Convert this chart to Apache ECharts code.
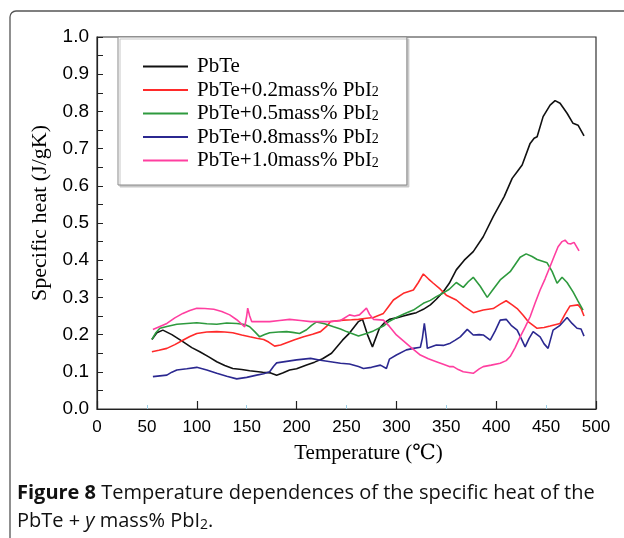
<!DOCTYPE html>
<html>
<head>
<meta charset="utf-8">
<script src="https://cdn.jsdelivr.net/npm/echarts@6/dist/echarts.min.js"></script>
<style>
  html, body { margin: 0; padding: 0; background: #fff; }
  #chart { width: 624px; height: 538px; }
</style>
</head>
<body>
<div id="chart"></div>
<script>
// [temperature (°C), specific heat (J/gK)]
const pbTe = [[55,0.187],[60,0.205],[66,0.212],[75,0.2],[86,0.181],[95,0.165],[103,0.154],[112,0.14],[120,0.127],[128,0.117],[136,0.109],[145,0.106],[153,0.103],[166,0.099],[174,0.097],[180,0.091],[186,0.097],[193,0.105],[200,0.108],[210,0.118],[218,0.126],[226,0.135],[235,0.15],[246,0.185],[253,0.204],[262,0.235],[266,0.241],[271,0.2],[276,0.167],[283,0.217],[288,0.232],[293,0.241],[300,0.245],[307,0.25],[314,0.255],[320,0.259],[327,0.268],[334,0.28],[340,0.295],[347,0.315],[353,0.338],[360,0.374],[368,0.4],[377,0.423],[387,0.463],[397,0.517],[408,0.571],[416,0.62],[421,0.638],[426,0.656],[434,0.714],[438,0.728],[441,0.732],[447,0.786],[454,0.817],[459,0.829],[464,0.822],[471,0.795],[477,0.768],[482,0.763],[488,0.734]]
const pbI2_02 = [[55,0.154],[62,0.158],[70,0.163],[78,0.173],[86,0.185],[93,0.195],[100,0.203],[110,0.207],[120,0.208],[128,0.207],[136,0.205],[145,0.199],[153,0.194],[160,0.19],[167,0.187],[172,0.18],[178,0.169],[184,0.172],[190,0.178],[198,0.186],[207,0.194],[216,0.201],[224,0.208],[230,0.222],[234,0.235],[240,0.237],[247,0.239],[255,0.24],[262,0.241],[270,0.244],[277,0.246],[287,0.257],[292,0.275],[297,0.293],[307,0.311],[317,0.32],[322,0.34],[327,0.363],[332,0.35],[337,0.338],[344,0.322],[350,0.306],[360,0.293],[368,0.275],[377,0.259],[387,0.266],[397,0.27],[404,0.282],[410,0.291],[416,0.28],[421,0.27],[427,0.252],[432,0.235],[441,0.217],[448,0.219],[454,0.223],[464,0.23],[469,0.255],[474,0.277],[482,0.28],[485,0.27],[488,0.25]]
const pbI2_05 = [[55,0.187],[59,0.205],[63,0.217],[70,0.222],[80,0.228],[90,0.23],[100,0.232],[110,0.229],[120,0.228],[130,0.231],[140,0.23],[148,0.227],[153,0.221],[158,0.208],[163,0.194],[168,0.2],[173,0.205],[182,0.207],[190,0.208],[196,0.206],[203,0.203],[210,0.213],[215,0.225],[220,0.234],[228,0.229],[237,0.221],[244,0.215],[250,0.208],[256,0.202],[262,0.196],[270,0.203],[277,0.21],[287,0.223],[293,0.236],[300,0.246],[308,0.256],[317,0.266],[327,0.284],[334,0.292],[340,0.302],[347,0.312],[353,0.322],[360,0.34],[367,0.327],[372,0.342],[377,0.354],[384,0.33],[391,0.3],[397,0.322],[404,0.347],[414,0.369],[424,0.408],[430,0.417],[436,0.41],[441,0.402],[451,0.393],[456,0.37],[461,0.338],[466,0.354],[471,0.34],[477,0.315],[482,0.29],[487,0.266]]
const pbI2_08 = [[56,0.087],[63,0.089],[70,0.091],[75,0.099],[80,0.105],[90,0.108],[100,0.112],[110,0.105],[120,0.096],[130,0.088],[140,0.081],[150,0.085],[160,0.091],[167,0.095],[173,0.1],[177,0.115],[180,0.124],[190,0.128],[200,0.132],[207,0.134],[214,0.136],[224,0.131],[234,0.127],[244,0.123],[253,0.121],[262,0.114],[267,0.109],[275,0.112],[284,0.118],[290,0.109],[293,0.134],[300,0.145],[310,0.159],[317,0.163],[324,0.166],[326,0.19],[328,0.23],[330,0.19],[331,0.163],[340,0.172],[347,0.171],[354,0.177],[359,0.185],[364,0.194],[371,0.214],[377,0.199],[383,0.2],[387,0.199],[394,0.185],[399,0.21],[404,0.239],[410,0.241],[415,0.225],[421,0.212],[425,0.19],[429,0.167],[433,0.19],[437,0.208],[441,0.2],[444,0.194],[448,0.175],[452,0.163],[457,0.212],[464,0.225],[471,0.246],[476,0.23],[481,0.217],[485,0.215],[488,0.196]]
const pbI2_10 = [[56,0.214],[63,0.222],[70,0.23],[78,0.245],[86,0.257],[93,0.265],[100,0.271],[108,0.27],[117,0.268],[125,0.262],[133,0.253],[140,0.24],[148,0.221],[150,0.25],[151,0.271],[153,0.25],[155,0.235],[163,0.235],[173,0.235],[183,0.238],[193,0.241],[204,0.238],[214,0.235],[224,0.235],[234,0.235],[244,0.238],[253,0.253],[258,0.25],[263,0.253],[270,0.271],[273,0.255],[277,0.241],[287,0.239],[293,0.222],[300,0.199],[307,0.183],[314,0.167],[324,0.145],[332,0.135],[340,0.127],[347,0.12],[353,0.114],[357,0.114],[362,0.106],[367,0.1],[372,0.098],[377,0.096],[383,0.108],[387,0.114],[395,0.118],[404,0.123],[410,0.13],[414,0.141],[419,0.165],[424,0.194],[429,0.22],[434,0.248],[439,0.285],[444,0.32],[449,0.35],[454,0.383],[458,0.41],[462,0.436],[466,0.45],[469,0.454],[472,0.445],[475,0.444],[478,0.448],[480,0.445],[483,0.425]]

const seriesNames = ['PbTe', 'PbTe+0.2mass% PbI2', 'PbTe+0.5mass% PbI2', 'PbTe+0.8mass% PbI2', 'PbTe+1.0mass% PbI2']
const seriesColors = ['#111111', '#ff2a2a', '#2e9a3e', '#2b2890', '#ff3fa0']
const seriesData = [pbTe, pbI2_02, pbI2_05, pbI2_08, pbI2_10]

const serif = '"Liberation Serif", "DejaVu Serif", serif'
const narrow = '"Liberation Sans Narrow", "Liberation Sans", sans-serif'
const caption = '"Open Sans", sans-serif'

const chart = echarts.init(document.getElementById('chart'))

chart.setOption({
  backgroundColor: '#fff',
  animation: false,
  grid: {
    left: 97,
    right: 28,
    top: 37,
    bottom: 129,
    show: true,
    borderColor: '#333',
    borderWidth: 1.2
  },
  legend: {
    orient: 'vertical',
    left: 118,
    top: 37,
    padding: [19, 28, 14, 25],
    backgroundColor: '#fff',
    borderColor: '#888',
    borderWidth: 1,
    shadowColor: '#c8c8c8',
    shadowOffsetX: 2,
    shadowOffsetY: 2,
    shadowBlur: 0,
    icon: 'rect',
    itemWidth: 45,
    itemHeight: 2,
    itemGap: 2.5,
    data: seriesNames,
    formatter: name => name.endsWith('PbI2') ? name.slice(0, -1) + '{s|2}' : name,
    textStyle: {
      fontFamily: serif,
      fontSize: 21,
      lineHeight: 19,
      color: '#000',
      padding: [0, 0, 0, 4],
      rich: {
        s: { fontFamily: serif, fontSize: 14, lineHeight: 19, color: '#000', padding: [5, 0, 0, 0] }
      }
    }
  },
  xAxis: [{
    type: 'value',
    min: 0,
    max: 500,
    interval: 50,
    name: 'Temperature (℃)',
    nameLocation: 'middle',
    nameGap: 34,
    nameTextStyle: { fontFamily: serif, fontSize: 21, color: '#000', padding: [0, 0, 0, 44] },
    axisLine: { lineStyle: { color: '#222', width: 1.2 } },
    axisTick: { inside: true, length: 4, lineStyle: { color: '#9cd0e6' } },
    axisLabel: { fontFamily: narrow, fontSize: 17, color: '#000', margin: 10 },
    splitLine: { show: false }
  }, {
    type: 'value',
    position: 'bottom',
    min: 0,
    max: 500,
    interval: 100,
    axisLine: { show: false },
    axisTick: { inside: true, length: 8, lineStyle: { color: '#222', width: 1.2 } },
    axisLabel: { show: false },
    splitLine: { show: false }
  }],
  yAxis: {
    type: 'value',
    min: 0,
    max: 1,
    interval: 0.1,
    name: 'Specific heat (J/gK)',
    nameLocation: 'middle',
    nameGap: 45,
    nameTextStyle: { fontFamily: serif, fontSize: 22, color: '#000', padding: [0, 0, 0, 20] },
    axisLine: { lineStyle: { color: '#222', width: 1.2 } },
    axisTick: { inside: true, length: 6, lineStyle: { color: '#222' } },
    minorTick: { show: true, splitNumber: 2, length: 6, lineStyle: { color: '#222' } },
    axisLabel: {
      fontFamily: narrow,
      fontSize: 19,
      color: '#000',
      margin: 8,
      formatter: v => v.toFixed(1)
    },
    splitLine: { show: false }
  },
  series: seriesNames.map((name, i) => ({
    name,
    type: 'line',
    data: seriesData[i],
    showSymbol: false,
    symbol: 'none',
    color: seriesColors[i],
    lineStyle: { width: 1.6, color: seriesColors[i] },
    z: 2
  })),
  graphic: [{
    type: 'rect',
    shape: { x: 10, y: 11, width: 700, height: 700, r: 6 },
    style: { fill: 'none', stroke: '#555', lineWidth: 1.3 },
    z: -1
  }, {
    type: 'text',
    left: 17,
    top: 483,
    style: {
      text: '{b|Figure 8} Temperature dependences of the specific heat of the',
      font: '20px ' + caption,
      fill: '#111',
      rich: {
        b: { fontWeight: 'bold', fontFamily: caption, fontSize: 20, fill: '#111' }
      }
    }
  }, {
    type: 'text',
    left: 17,
    top: 511,
    style: {
      text: 'PbTe + {i|y} mass% PbI{s|2}.',
      font: '20px ' + caption,
      fill: '#111',
      rich: {
        i: { fontStyle: 'italic', fontFamily: caption, fontSize: 20, fill: '#111' },
        s: { fontFamily: caption, fontSize: 14, fill: '#111', padding: [8, 0, 0, 0] }
      }
    }
  }]
})
</script>
</body>
</html>
